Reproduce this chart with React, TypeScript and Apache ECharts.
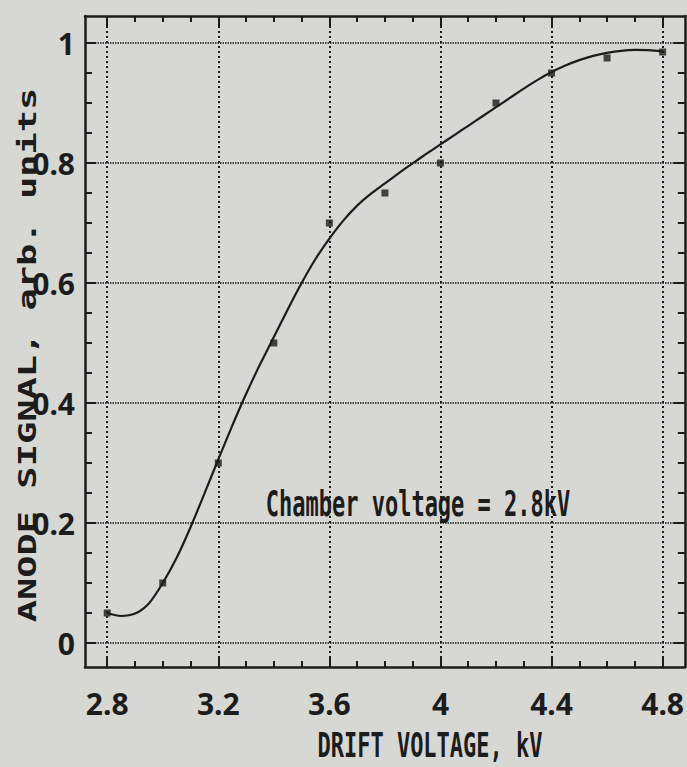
import React, { useEffect, useRef } from "react";
import * as echarts from "echarts";

// Axis ranges and ticks
const X_RANGE = [2.72, 4.88];
const Y_RANGE = [-0.04, 1.045];
const X_MAJOR = [2.8, 3.2, 3.6, 4.0, 4.4, 4.8];
const X_MINOR = [2.8, 2.9, 3.0, 3.1, 3.2, 3.3, 3.4, 3.5, 3.6, 3.7, 3.8, 3.9, 4.0, 4.1, 4.2, 4.3, 4.4, 4.5, 4.6, 4.7, 4.8];
const Y_MAJOR = [0, 0.2, 0.4, 0.6, 0.8, 1.0];
const Y_MINOR = [0, 0.05, 0.1, 0.15, 0.2, 0.25, 0.3, 0.35, 0.4, 0.45, 0.5, 0.55, 0.6, 0.65, 0.7, 0.75, 0.8, 0.85, 0.9, 0.95, 1.0];

// Measured points
const POINT_X = [2.8, 3.0, 3.2, 3.4, 3.6, 3.8, 4.0, 4.2, 4.4, 4.6, 4.8];
const POINT_Y = [0.05, 0.1, 0.3, 0.5, 0.7, 0.75, 0.8, 0.9, 0.95, 0.975, 0.985];

// Fitted curve (read every 0.05 kV)
const CURVE_X = [
  2.8, 2.85, 2.9, 2.95, 3.0, 3.05, 3.1, 3.15, 3.2, 3.25, 3.3, 3.35, 3.4, 3.45, 3.5, 3.55, 3.6, 3.65, 3.7, 3.75,
  3.8, 3.85, 3.9, 3.95, 4.0, 4.05, 4.1, 4.15, 4.2, 4.25, 4.3, 4.35, 4.4, 4.45, 4.5, 4.55, 4.6, 4.65, 4.7, 4.75, 4.8,
];
const CURVE_Y = [
  0.05, 0.045, 0.049, 0.066, 0.1, 0.142, 0.193, 0.249, 0.306, 0.362, 0.415, 0.464, 0.51, 0.556, 0.6, 0.64, 0.674,
  0.704, 0.729, 0.749, 0.766, 0.783, 0.7995, 0.8155, 0.831, 0.8465, 0.862, 0.8775, 0.893, 0.9085, 0.924, 0.9385,
  0.9515, 0.9625, 0.9715, 0.9785, 0.9835, 0.987, 0.9885, 0.988, 0.986,
];

const X_TITLE = "DRIFT VOLTAGE, kV";
const Y_TITLE = "ANODE SIGNAL, arb. units";
const NOTE = "Chamber voltage = 2.8kV";

const INK = "#1c1c1c";
const BG = "#d7d7d3";
const LABEL_FONT = "'Noto Sans', sans-serif";
const MONO = "'DejaVu Sans Mono', monospace";

function tickAxis(kind: "x" | "y", position: string, values: number[], len: number, opts: any = {}) {
  const range = kind === "x" ? X_RANGE : Y_RANGE;
  return {
    type: "value",
    position,
    min: range[0],
    max: range[1],
    axisLine: { show: !!opts.line, onZero: false, lineStyle: { color: INK, width: 2.5 } },
    axisTick: { show: true, inside: true, length: len, customValues: values, lineStyle: { color: INK, width: 2 } },
    axisLabel: opts.label
      ? {
          show: true,
          customValues: values,
          color: INK,
          fontFamily: LABEL_FONT,
          fontWeight: "bold",
          fontSize: 30,
          margin: kind === "x" ? 21 : 10,
        }
      : { show: false },
    splitLine: opts.split
      ? {
          show: true,
          lineStyle:
            kind === "x"
              ? { color: INK, width: 2, type: [2, 3] }
              : { color: INK, width: 1.5, type: [1.5, 1] },
        }
      : { show: false },
  };
}

export default function App() {
  const ref = useRef<HTMLDivElement>(null);
  useEffect(() => {
    if (!ref.current) return;
    const chart = echarts.init(ref.current, undefined, { renderer: "svg" });
    chart.setOption({
      animation: false,
      backgroundColor: BG,
      grid: { left: 85, top: 16, width: 604, height: 651, containLabel: false },
      xAxis: [
        tickAxis("x", "bottom", X_MAJOR, 11, { line: true, label: true, split: true }),
        tickAxis("x", "bottom", X_MINOR, 6),
        tickAxis("x", "top", X_MAJOR, 11, { line: true }),
        tickAxis("x", "top", X_MINOR, 6),
      ],
      yAxis: [
        tickAxis("y", "left", Y_MAJOR, 11, { line: true, label: true, split: true }),
        tickAxis("y", "left", Y_MINOR, 7),
        tickAxis("y", "right", Y_MAJOR, 11, { line: true }),
        tickAxis("y", "right", Y_MINOR, 7),
      ],
      series: [
        {
          type: "line",
          xAxisIndex: 0,
          yAxisIndex: 0,
          data: CURVE_X.map((x, i) => [x, CURVE_Y[i]]),
          smooth: 0.3,
          showSymbol: false,
          symbol: "none",
          lineStyle: { color: INK, width: 2.2 },
          z: 3,
        },
        {
          type: "scatter",
          xAxisIndex: 0,
          yAxisIndex: 0,
          data: POINT_X.map((x, i) => [x, POINT_Y[i]]),
          symbol: "rect",
          symbolSize: 7,
          itemStyle: { color: INK },
          z: 4,
        },
      ],
      graphic: [
        {
          type: "text",
          x: 430,
          y: 745,
          scaleY: 1.55,
          style: { text: X_TITLE, fill: INK, font: `bold 22px ${MONO}`, textAlign: "center", textVerticalAlign: "middle" },
        },
        {
          type: "text",
          x: 27,
          y: 355,
          rotation: Math.PI / 2,
          scaleY: 0.67,
          style: { text: Y_TITLE, fill: INK, font: `bold 37px ${MONO}`, textAlign: "center", textVerticalAlign: "middle" },
        },
        {
          type: "text",
          x: 418,
          y: 504,
          scaleY: 1.6,
          style: { text: NOTE, fill: INK, font: `bold 22px ${MONO}`, textAlign: "center", textVerticalAlign: "middle" },
        },
      ],
    });
    return () => chart.dispose();
  }, []);
  return (
    <div
      ref={ref}
      style={{ position: "absolute", left: 0, top: 0, width: 687, height: 767, background: BG }}
    />
  );
}
